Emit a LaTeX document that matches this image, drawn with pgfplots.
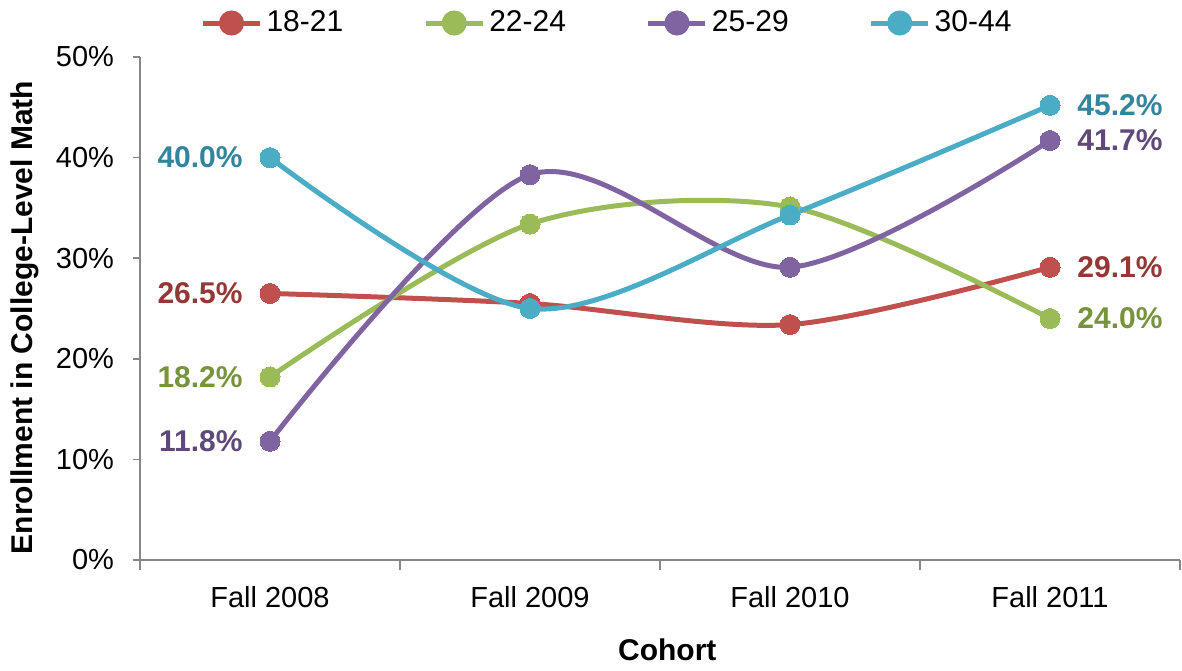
\documentclass[border=0pt]{standalone}
\usepackage{fontspec}
\setmainfont{Liberation Sans}
\usepackage{pgfplots}
\pgfplotsset{compat=1.18}

\definecolor{cRed}{HTML}{C0504D}
\definecolor{cGreen}{HTML}{9BBB59}
\definecolor{cPurple}{HTML}{8064A2}
\definecolor{cBlue}{HTML}{4BACC6}
\definecolor{dRed}{HTML}{953735}
\definecolor{dGreen}{HTML}{77933C}
\definecolor{dPurple}{HTML}{5F497A}
\definecolor{dBlue}{HTML}{31859C}
\definecolor{axgray}{HTML}{868686}

\pgfplotsset{
  ser/.style={color=#1, line width=2.5pt, smooth, tension=0.5,
    mark=*, mark size=5pt, mark options={solid, fill=#1, draw=#1, line width=0pt}},
  lbl/.style 2 args={forget plot, draw=none, mark=none, point meta=explicit symbolic,
    nodes near coords,
    nodes near coords style={anchor=#1, inner sep=0pt, xshift=#2, yshift=0pt,
      font=\fontsize{15}{17}\selectfont\bfseries}},
}

\begin{document}
\begin{tikzpicture}
\begin{axis}[
  scale only axis,
  width=520pt, height=251.5pt,
  xmin=0, xmax=4, ymin=0, ymax=50,
  axis x line*=bottom, axis y line*=left,
  axis line style={axgray, line width=0.8pt},
  xtick={0.5,1.5,2.5,3.5},
  xticklabels={Fall 2008, Fall 2009, Fall 2010, Fall 2011},
  minor xtick={0,1,2,3,4},
  major x tick style={draw=none},
  minor x tick style={axgray, line width=0.8pt},
  minor tick length=5pt,
  ytick={0,10,20,30,40,50},
  y tick style={axgray, line width=0.8pt},
  major tick length=3.5pt,
  tick align=outside,
  yticklabel={\pgfmathprintnumber{\tick}\%},
  /pgf/number format/assume math mode=true,
  ticklabel style={font=\fontsize{14.5}{16}\selectfont},
  xticklabel style={yshift=-6pt},
  yticklabel style={xshift=-6pt},
  ylabel={Enrollment in College-Level Math},
  ylabel style={at={(axis description cs:-0.111,0.482)}, anchor=center,
    font=\fontsize{15}{17}\selectfont\bfseries},
  xlabel={Cohort},
  xlabel style={at={(axis description cs:0.507,-0.179)}, anchor=center,
    font=\fontsize{15}{17}\selectfont\bfseries},
  legend columns=4,
  legend style={draw=none, at={(axis description cs:0.45,1)}, anchor=center,
    yshift=17pt, font=\fontsize{15}{17}\selectfont,
    /tikz/every even column/.append style={column sep=38pt}},
  legend image code/.code={
    \draw[#1, line width=2.5pt] (0pt,0pt) -- (28.5pt,0pt);
    \fill[#1] (14.25pt,0pt) circle (5pt);
  },
]
\addplot[ser=cRed] coordinates {(0.5,26.5) (1.5,25.5) (2.5,23.4) (3.5,29.1)};
\addlegendentry{18-21}
\addplot[ser=cGreen] coordinates {(0.5,18.2) (1.5,33.4) (2.5,35.1) (3.5,24.0)};
\addlegendentry{22-24}
\addplot[ser=cPurple] coordinates {(0.5,11.8) (1.5,38.3) (2.5,29.1) (3.5,41.7)};
\addlegendentry{25-29}
\addplot[ser=cBlue] coordinates {(0.5,40.0) (1.5,25.0) (2.5,34.3) (3.5,45.2)};
\addlegendentry{30-44}

\addplot[lbl={east}{-13.5pt}, nodes near coords style={text=dRed}] coordinates {(0.5,26.5) [26.5\%]};
\addplot[lbl={east}{-13.5pt}, nodes near coords style={text=dGreen}] coordinates {(0.5,18.2) [18.2\%]};
\addplot[lbl={east}{-13.5pt}, nodes near coords style={text=dPurple}] coordinates {(0.5,11.8) [11.8\%]};
\addplot[lbl={east}{-13.5pt}, nodes near coords style={text=dBlue}] coordinates {(0.5,40.0) [40.0\%]};
\addplot[lbl={west}{13.5pt}, nodes near coords style={text=dRed}] coordinates {(3.5,29.1) [29.1\%]};
\addplot[lbl={west}{13.5pt}, nodes near coords style={text=dGreen}] coordinates {(3.5,24.0) [24.0\%]};
\addplot[lbl={west}{13.5pt}, nodes near coords style={text=dPurple}] coordinates {(3.5,41.7) [41.7\%]};
\addplot[lbl={west}{13.5pt}, nodes near coords style={text=dBlue}] coordinates {(3.5,45.2) [45.2\%]};
\end{axis}
\pgfresetboundingbox
\path (-70pt,-55pt) rectangle (521pt,280pt);
\end{tikzpicture}
\end{document}
